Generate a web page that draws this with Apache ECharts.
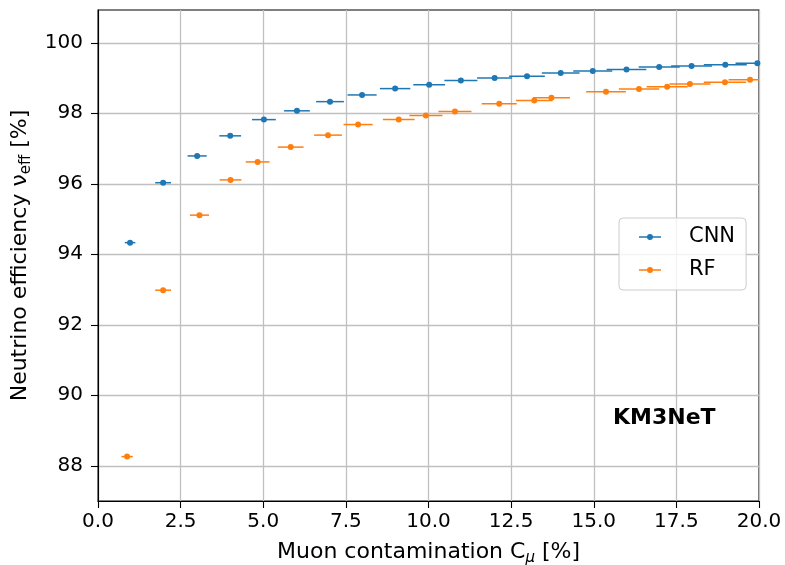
<!DOCTYPE html>
<html>
<head>
<meta charset="utf-8">
<script src="https://cdn.jsdelivr.net/npm/echarts@6/dist/echarts.min.js"></script>
<style>html,body{margin:0;padding:0;background:#fff}#c{width:785px;height:565px}</style>
</head>
<body>
<div id="c"></div>
<script>
// ---- data ----
var cnnX    = [0.97, 1.97, 3.00, 4.00, 5.02, 6.02, 7.02, 7.99, 8.99, 10.02, 10.98, 12.00, 12.98, 14.00, 14.97, 15.99, 16.98, 17.96, 18.98, 19.95];
var cnnY    = [94.33, 96.03, 96.79, 97.36, 97.82, 98.07, 98.33, 98.52, 98.70, 98.81, 98.93, 99.00, 99.05, 99.14, 99.20, 99.24, 99.31, 99.34, 99.38, 99.42];
var cnnXerr = [0.16, 0.24, 0.29, 0.33, 0.36, 0.39, 0.42, 0.44, 0.46, 0.48, 0.50, 0.53, 0.54, 0.57, 0.59, 0.60, 0.62, 0.62, 0.65, 0.66];

var rfX     = [0.88, 1.97, 3.07, 4.01, 4.83, 5.83, 6.96, 7.87, 9.10, 9.92, 10.80, 12.14, 13.20, 13.72, 15.37, 16.37, 17.22, 17.91, 18.97, 19.73];
var rfY     = [88.26, 92.98, 95.11, 96.11, 96.62, 97.04, 97.38, 97.68, 97.82, 97.94, 98.05, 98.27, 98.36, 98.44, 98.61, 98.69, 98.75, 98.83, 98.88, 98.95];
var rfXerr  = [0.17, 0.24, 0.29, 0.33, 0.36, 0.39, 0.42, 0.44, 0.48, 0.50, 0.50, 0.53, 0.55, 0.56, 0.60, 0.61, 0.62, 0.62, 0.64, 0.65];

var yTicks = [88, 90, 92, 94, 96, 98, 100];
var seriesNames = ['CNN', 'RF'];
var annotation = 'KM3NeT';

// ---- build ----
function zip3(a, b, c) { return a.map(function (v, i) { return [v, b[i], c[i]]; }); }
function zip2(a, b) { return a.map(function (v, i) { return [v, b[i]]; }); }

var FONT = 'DejaVu Sans';
var C1 = '#1f77b4', C2 = '#ff7f0e';

function errRender(params, api) {
  var x = api.value(0), y = api.value(1), e = api.value(2);
  var p1 = api.coord([x - e, y]), p2 = api.coord([x + e, y]);
  return {
    type: 'line',
    shape: { x1: p1[0], y1: p1[1], x2: p2[0], y2: p2[1] },
    style: { stroke: api.visual('color'), lineWidth: 1.5 }
  };
}

var legendIcon = 'path://M0,2.25H8.3V3.75H0Z M13.7,2.25H22V3.75H13.7Z M14,3A3,3 0 1 1 8,3A3,3 0 1 1 14,3Z';

var chart = echarts.init(document.getElementById('c'), null, { renderer: 'canvas' });
chart.setOption({
  backgroundColor: '#fff',
  animation: false,
  textStyle: { fontFamily: FONT, color: '#000' },
  grid: { left: 98, right: 26, top: 10, bottom: 64, containLabel: false, outerBoundsMode: 'none',
          show: true, borderColor: '#000', borderWidth: 1.1, backgroundColor: 'transparent' },
  xAxis: {
    type: 'value', min: 0, max: 20, interval: 2.5,
    axisLine: { show: true, lineStyle: { color: '#000', width: 1.1 } },
    axisTick: { show: true, length: 7, lineStyle: { color: '#000', width: 1.1 } },
    axisLabel: { color: '#000', fontSize: 20, fontFamily: FONT, margin: 11, formatter: function (v) { return v.toFixed(1); } },
    splitLine: { show: true, lineStyle: { color: '#c0c0c0', width: 1.3 } },
    name: '{a|Muon contamination C}{s|μ}{a| [%]}',
    nameLocation: 'middle', nameGap: 37,
    nameTextStyle: {
      rich: {
        a: { fontSize: 22, fontFamily: FONT, color: '#000', lineHeight: 28, verticalAlign: 'middle' },
        s: { fontSize: 15, fontFamily: FONT, fontStyle: 'italic', color: '#000', lineHeight: 17, verticalAlign: 'bottom' }
      }
    }
  },
  yAxis: {
    type: 'value', min: 87.0, max: 100.93,
    axisLine: { show: true, lineStyle: { color: '#000', width: 1.1 } },
    axisTick: { show: true, length: 7, lineStyle: { color: '#000', width: 1.1 }, customValues: yTicks },
    axisLabel: { color: '#000', fontSize: 20, fontFamily: FONT, margin: 15, customValues: yTicks },
    splitLine: { show: true, lineStyle: { color: '#c0c0c0', width: 1.3 } },
    name: '{a|Neutrino efficiency ν}{s|eff}{a| [%]}',
    nameLocation: 'middle', nameGap: 62, nameRotate: 90,
    nameTextStyle: {
      rich: {
        a: { fontSize: 22, fontFamily: FONT, color: '#000', lineHeight: 28, verticalAlign: 'middle' },
        s: { fontSize: 15, fontFamily: FONT, color: '#000', lineHeight: 17, verticalAlign: 'bottom' }
      }
    }
  },
  legend: {
    orient: 'vertical', left: 619, top: 218,
    padding: [7, 11, 8, 20], itemGap: 9,
    itemWidth: 22, itemHeight: 6,
    backgroundColor: 'rgba(255,255,255,0.8)',
    borderColor: '#cccccc', borderWidth: 1, borderRadius: 4,
    textStyle: { fontSize: 21, fontFamily: FONT, color: '#000', lineHeight: 24, padding: [0, 0, 0, 23] },
    data: [{ name: seriesNames[0], icon: legendIcon }, { name: seriesNames[1], icon: legendIcon }]
  },
  graphic: [{
    type: 'text', left: 613, top: 407, z: 100,
    style: { text: annotation, font: 'bold 22px "DejaVu Sans"', fill: '#000' }
  }],
  series: [
    { name: seriesNames[0] + ' err', type: 'custom', renderItem: errRender, clip: true,
      itemStyle: { color: C1 }, encode: { x: 0, y: 1 }, data: zip3(cnnX, cnnY, cnnXerr), z: 2 },
    { name: seriesNames[0], type: 'scatter', symbol: 'circle', symbolSize: 6, clip: true,
      itemStyle: { color: C1, opacity: 1 }, data: zip2(cnnX, cnnY), z: 3 },
    { name: seriesNames[1] + ' err', type: 'custom', renderItem: errRender, clip: true,
      itemStyle: { color: C2 }, encode: { x: 0, y: 1 }, data: zip3(rfX, rfY, rfXerr), z: 4 },
    { name: seriesNames[1], type: 'scatter', symbol: 'circle', symbolSize: 6, clip: true,
      itemStyle: { color: C2, opacity: 1 }, data: zip2(rfX, rfY), z: 5 }
  ]
});
</script>
</body>
</html>
